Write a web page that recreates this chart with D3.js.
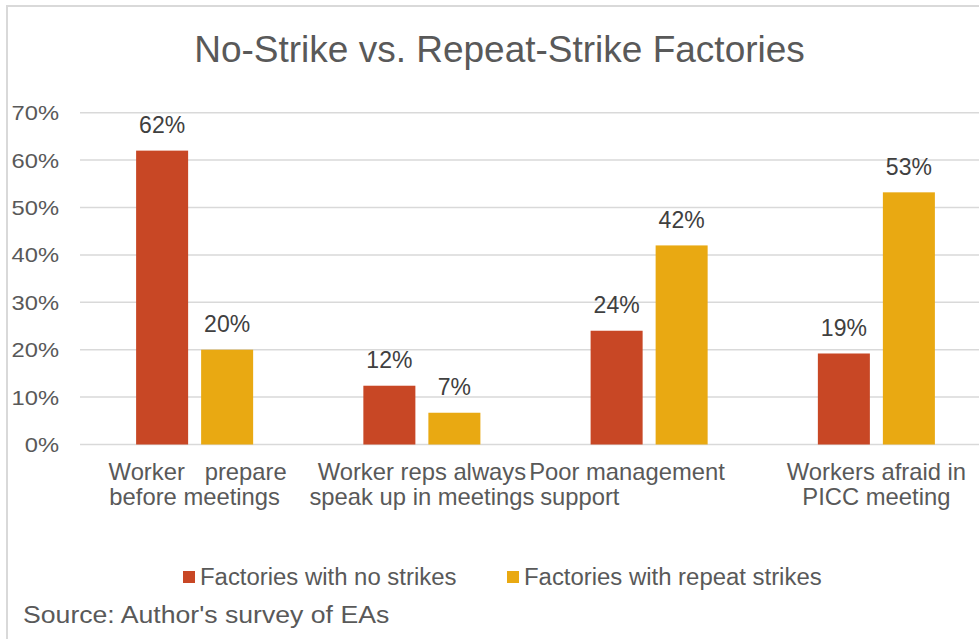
<!DOCTYPE html>
<html>
<head>
<meta charset="utf-8">
<script src="https://cdn.jsdelivr.net/npm/d3@7"></script>
<style>
  body { margin: 0; background: #fff; }
  svg text { font-family: "Liberation Sans", Arial, sans-serif; }
</style>
</head>
<body>
<div id="chart"></div>
<script>
// chart data
const categories = ["prep", "speak", "support", "afraid"];
const categoryLines = [
  ["Worker   prepare", "before meetings"],
  ["Worker reps always", "speak up in meetings"],
  ["Poor management", "support"],
  ["Workers afraid in", "PICC meeting"]
];
const seriesNames = ["Factories with no strikes", "Factories with repeat strikes"];
const noStrikes = [0.62, 0.124, 0.24, 0.192];
const repeatStrikes = [0.20, 0.067, 0.42, 0.532];
const yTicks = [0, 0.1, 0.2, 0.3, 0.4, 0.5, 0.6, 0.7];
const colors = ["#c84725", "#e9a912"];

const W = 979, H = 639;

const svg = d3.select("#chart").append("svg")
  .attr("width", W).attr("height", H);

// frame of the chart (right/bottom fall outside the picture)
svg.append("rect")
  .attr("x", 7).attr("y", 6)
  .attr("width", 990).attr("height", 700)
  .attr("fill", "none")
  .attr("stroke", "#d9d9d9")
  .attr("stroke-width", 2);

const y = d3.scaleLinear().domain([0, 0.7]).range([444.5, 112.7]);

const x0 = d3.scaleBand()
  .domain(categories)
  .range([81, 990])
  .paddingInner(0.485)
  .paddingOuter(0.2425);

const x1 = d3.scaleBand()
  .domain([0, 1])
  .range([0, x0.bandwidth()])
  .paddingInner(0.2);

// some of the text boxes in the original are a little wider than plain Arial
function place(sel, x, y, sx) {
  const f = v => (typeof v === "function" ? v : () => v);
  return sel.attr("transform", (d, i) =>
    `translate(${f(x)(d, i)},${f(y)(d, i)}) scale(${sx || 1},1)`);
}

// title
place(svg.append("text"), 499.5, 62)
  .attr("text-anchor", "middle")
  .attr("font-size", 37)
  .attr("fill", "#595959")
  .text("No-Strike vs. Repeat-Strike Factories");

// gridlines
svg.append("g").selectAll("line")
  .data(yTicks)
  .join("line")
  .attr("x1", 80).attr("x2", W)
  .attr("y1", d => y(d)).attr("y2", d => y(d))
  .attr("stroke", "#d9d9d9")
  .attr("stroke-width", 1.5);

// y tick labels
place(svg.append("g").selectAll("text").data(yTicks).join("text"), 59, d => y(d) + 7.5, 1.13)
  .attr("text-anchor", "end")
  .attr("font-size", 21)
  .attr("fill", "#595959")
  .text(d => d3.format(".0%")(d));

// bars
const rows = categories.map((c, i) => ({ cat: c, values: [noStrikes[i], repeatStrikes[i]] }));

const groups = svg.append("g").selectAll("g")
  .data(rows)
  .join("g")
  .attr("transform", d => `translate(${x0(d.cat)},0)`);

groups.selectAll("rect")
  .data(d => d.values.map((v, k) => ({ v, k })))
  .join("rect")
  .attr("x", d => x1(d.k))
  .attr("y", d => y(d.v))
  .attr("width", x1.bandwidth())
  .attr("height", d => y(0) - y(d.v))
  .attr("fill", d => colors[d.k]);

place(groups.selectAll("text.val")
  .data(d => d.values.map((v, k) => ({ v, k })))
  .join("text").attr("class", "val"),
  d => x1(d.k) + x1.bandwidth() / 2, d => y(d.v) - 17.5)
  .attr("text-anchor", "middle")
  .attr("font-size", 23)
  .attr("fill", "#404040")
  .text(d => Math.round(d.v * 100) + "%");

// category labels (the third one sits off-centre in the original)
const catOffset = { support: [-120, -109] };

svg.append("g").selectAll("g")
  .data(categories)
  .join("g")
  .each(function (c, i) {
    const g = d3.select(this);
    const cx = x0(c) + x0.bandwidth() / 2;
    const off = catOffset[c];
    categoryLines[i].forEach((line, j) => {
      place(g.append("text"), off ? cx + off[j] : cx + (i === 0 && j === 0 ? 3 : 0), 480 + j * 25, 1.035)
        .attr("text-anchor", off ? "start" : "middle")
        .attr("font-size", 23)
        .attr("fill", "#595959")
        .attr("xml:space", "preserve")
        .style("white-space", "pre")
        .text(line);
    });
  });

// legend
const legendX = [183, 507];
const leg = svg.append("g").selectAll("g")
  .data(seriesNames)
  .join("g")
  .attr("transform", (d, i) => `translate(${legendX[i]},577)`);

leg.append("rect")
  .attr("x", 0).attr("y", -6)
  .attr("width", 12).attr("height", 12)
  .attr("fill", (d, i) => colors[i]);

place(leg.append("text"), 17, 8, 1.04)
  .attr("font-size", 23)
  .attr("fill", "#595959")
  .text(d => d);

// source note
place(svg.append("text"), 23, 623, 1.11)
  .attr("font-size", 24)
  .attr("fill", "#595959")
  .text("Source: Author's survey of EAs");
</script>
</body>
</html>
